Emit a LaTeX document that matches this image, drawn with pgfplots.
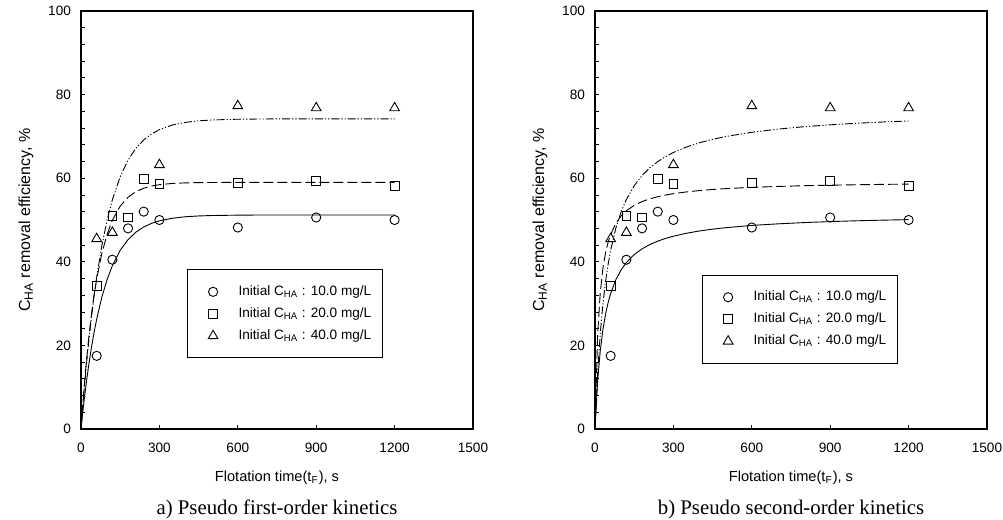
\documentclass[border=0pt]{standalone}
\usepackage{pgfplots}
\pgfplotsset{compat=1.18}
\usepackage{fontspec}
\setmainfont{Liberation Sans}
\newfontfamily\capfont{Liberation Serif}

% fitted curves, tabulated
\def\firstA{(0,0) (10,5.79) (20,10.93) (30,15.48) (40,19.52) (50,23.10) (60,26.28) (80,31.60) (100,35.78) (120,39.07) (150,42.74) (180,45.30) (210,47.08) (240,48.33) (270,49.19) (300,49.80) (350,50.43) (400,50.78) (450,50.97) (500,51.07) (600,51.16) (700,51.2) (800,51.2) (900,51.2) (1000,51.2) (1100,51.2) (1200,51.2)}
\def\firstB{(0,0) (10,8.52) (20,15.81) (30,22.05) (40,27.39) (50,31.95) (60,35.86) (80,42.06) (100,46.60) (120,49.93) (150,53.32) (180,55.44) (210,56.77) (240,57.60) (270,58.13) (300,58.45) (350,58.75) (400,58.88) (450,58.95) (500,58.97) (600,59.0) (800,59.0) (1000,59.0) (1200,59.0)}
\def\firstC{(0,0) (10,7.87) (20,14.89) (30,21.18) (40,26.79) (50,31.82) (60,36.31) (80,43.91) (100,49.99) (120,54.85) (150,60.37) (180,64.32) (210,67.14) (240,69.15) (270,70.59) (300,71.63) (350,72.73) (400,73.36) (450,73.72) (500,73.93) (600,74.11) (700,74.17) (800,74.2) (1000,74.2) (1200,74.2)}
\def\secondA{(0,0) (10,11.36) (20,18.61) (30,23.65) (40,27.35) (50,30.19) (60,32.43) (80,35.75) (100,38.08) (120,39.82) (150,41.72) (180,43.09) (210,44.13) (240,44.94) (270,45.59) (300,46.12) (350,46.83) (400,47.38) (450,47.81) (500,48.16) (600,48.70) (700,49.08) (800,49.38) (900,49.62) (1000,49.81) (1100,49.96) (1200,50.09)}
\def\secondB{(0,0) (10,22.39) (20,32.52) (30,38.30) (40,42.03) (50,44.65) (60,46.57) (80,49.23) (100,50.98) (120,52.21) (150,53.50) (180,54.41) (210,55.06) (240,55.57) (270,55.97) (300,56.30) (350,56.72) (400,57.04) (450,57.30) (500,57.50) (600,57.81) (700,58.03) (800,58.20) (900,58.33) (1000,58.43) (1100,58.52) (1200,58.59)}
\def\secondC{(0,0) (10,13.35) (20,22.73) (30,29.69) (40,35.06) (50,39.33) (60,42.80) (80,48.10) (100,51.97) (120,54.91) (150,58.21) (180,60.63) (210,62.50) (240,63.97) (270,65.16) (300,66.15) (350,67.46) (400,68.49) (450,69.30) (500,69.97) (600,70.99) (700,71.74) (800,72.32) (900,72.77) (1000,73.14) (1100,73.44) (1200,73.69)}

\pgfplotsset{
  kin/.style={
    scale only axis, width=196pt, height=209pt,
    xmin=0, xmax=1500, ymin=0, ymax=100,
    xtick={0,300,...,1500}, ytick={0,20,...,100},
    minor y tick num=4,
    tick pos=left, tick align=inside,
    major tick length=2pt, minor tick length=2pt,
    axis line style={line width=0.9pt},
    every tick/.style={black, line width=0.4pt},
    ticklabel style={font=\fontsize{6.8}{7.5}\selectfont},
    xticklabel style={yshift=-3.5pt},
    yticklabel style={xshift=-1.5pt},
    /pgf/number format/assume math mode=true,
    /pgf/number format/1000 sep={},
    xlabel={Flotation time(t\textsubscript{F}), s},
    ylabel={C\textsubscript{HA} removal efficiency, \%},
    xlabel style={font=\fontsize{7.3}{8.5}\selectfont, at={(axis description cs:0.5,0)}, anchor=center, yshift=-24.5pt},
    ylabel style={font=\fontsize{8}{9}\selectfont, at={(axis description cs:0,0.5)}, anchor=center, yshift=27.5pt},
    clip=false,
    legend style={draw=black, line width=0.5pt, font=\fontsize{6.8}{8}\selectfont,
      inner xsep=5.5pt, inner ysep=7.75pt, row sep=4.5pt,
      nodes={inner sep=0pt, text height=5pt, text depth=1.5pt},
      cells={anchor=west}},
    legend image code/.code={\path (0pt,0pt) (19.5pt,0pt); \draw[#1] plot coordinates {(7pt,0pt)};},
  },
  ptA/.style={only marks, mark=o, mark size=2.3pt, mark options={black, line width=0.45pt}},
  ptB/.style={only marks, mark=square, mark size=2.2pt, mark options={black, line width=0.45pt}},
  ptC/.style={only marks, mark=triangle, mark size=2.8pt, mark options={black, line width=0.45pt}},
  lnA/.style={black, line width=0.45pt, no marks, forget plot},
  lnB/.style={black, line width=0.45pt, no marks, forget plot, dash pattern=on 5pt off 2pt},
  lnC/.style={black, line width=0.45pt, no marks, forget plot, dash pattern=on 4pt off 1pt on 0.6pt off 1pt on 0.6pt off 1pt},
}

\begin{document}
\begin{tikzpicture}
\useasboundingbox (-40.5pt,-45.5pt) rectangle (461pt,214.5pt);

\begin{axis}[kin, legend style={at={(axis cs:406,38.2)}, anchor=north west}]
  \addplot[lnA] coordinates {\firstA};
  \addplot[lnB] coordinates {\firstB};
  \addplot[lnC] coordinates {\firstC};
  \addplot[ptA] coordinates {(60,17.5) (120,40.5) (180,48.0) (240,52.0) (300,50.0) (600,48.2) (900,50.6) (1200,50.0)};
  \addlegendentry{Initial C\textsubscript{HA} : 10.0 mg/L}
  \addplot[ptB] coordinates {(60,34.2) (120,51.0) (180,50.6) (240,59.8) (300,58.6) (600,58.8) (900,59.3) (1200,58.2)};
  \addlegendentry{Initial C\textsubscript{HA} : 20.0 mg/L}
  \addplot[ptC] coordinates {(60,45.5) (120,47.0) (300,63.2) (600,77.3) (900,76.8) (1200,76.8)};
  \addlegendentry{Initial C\textsubscript{HA} : 40.0 mg/L}
  \node[font=\capfont\fontsize{10.4}{12}\selectfont] at (axis description cs:0.5,0) [yshift=-40pt] {a) Pseudo first-order kinetics};
\end{axis}

\begin{axis}[kin, at={(257pt,0pt)}, legend style={at={(axis cs:410,36.9)}, anchor=north west}]
  \addplot[lnA] coordinates {\secondA};
  \addplot[lnB] coordinates {\secondB};
  \addplot[lnC] coordinates {\secondC};
  \addplot[ptA] coordinates {(60,17.5) (120,40.5) (180,48.0) (240,52.0) (300,50.0) (600,48.2) (900,50.6) (1200,50.0)};
  \addlegendentry{Initial C\textsubscript{HA} : 10.0 mg/L}
  \addplot[ptB] coordinates {(60,34.2) (120,51.0) (180,50.6) (240,59.8) (300,58.6) (600,58.8) (900,59.3) (1200,58.2)};
  \addlegendentry{Initial C\textsubscript{HA} : 20.0 mg/L}
  \addplot[ptC] coordinates {(60,45.5) (120,47.0) (300,63.2) (600,77.3) (900,76.8) (1200,76.8)};
  \addlegendentry{Initial C\textsubscript{HA} : 40.0 mg/L}
  \node[font=\capfont\fontsize{10.4}{12}\selectfont] at (axis description cs:0.5,0) [yshift=-40pt] {b) Pseudo second-order kinetics};
\end{axis}
\end{tikzpicture}
\end{document}
